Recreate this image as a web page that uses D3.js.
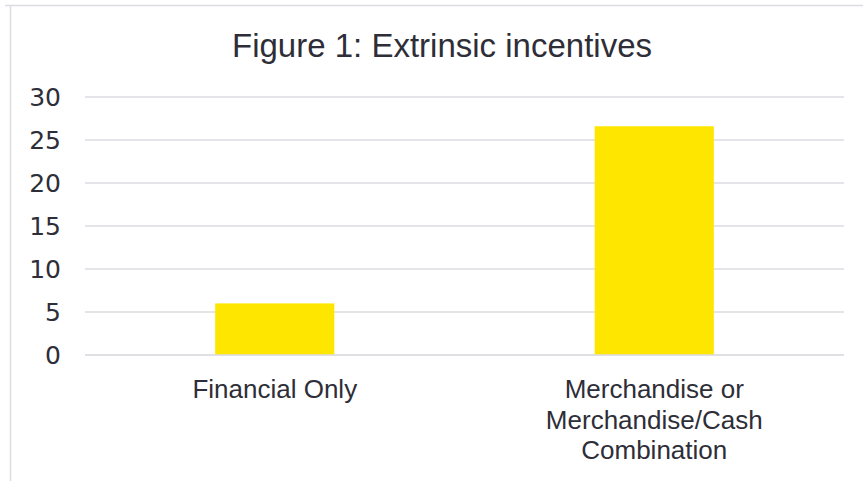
<!DOCTYPE html>
<html>
<head>
<meta charset="utf-8">
<script src="https://cdn.jsdelivr.net/npm/d3@7"></script>
<style>
  body { margin: 0; background: #fff; }
  text { font-family: "Liberation Sans", Arial, sans-serif; fill: #2e2e38; }
  .ytick { font-family: "DejaVu Sans", sans-serif; }
</style>
</head>
<body>
<svg id="chart"></svg>
<script>
// Chart data
const categories = ["Financial Only", "Merchandise or Merchandise/Cash Combination"];
const categoryLines = [["Financial Only"], ["Merchandise or", "Merchandise/Cash", "Combination"]];
const values = [6, 26.6];
const yTicks = [0, 5, 10, 15, 20, 25, 30];
const title = "Figure 1: Extrinsic incentives";

const W = 863, H = 481;
const margin = { top: 97, right: 19, bottom: 126, left: 85 };
const width = W - margin.left - margin.right;
const height = H - margin.top - margin.bottom;

const svg = d3.select("#chart")
    .attr("width", W)
    .attr("height", H);

// Frame (only top and left edges are visible in the crop)
svg.append("line")
    .attr("x1", 5).attr("x2", W).attr("y1", 5.5).attr("y2", 5.5)
    .attr("stroke", "#dcdce2").attr("stroke-width", 1.5);
svg.append("line")
    .attr("x1", 10.5).attr("x2", 10.5).attr("y1", 5).attr("y2", H)
    .attr("stroke", "#dcdce2").attr("stroke-width", 1.5);

// Title
svg.append("text")
    .attr("x", 442)
    .attr("y", 57)
    .attr("text-anchor", "middle")
    .style("font-size", "33px")
    .text(title);

const g = svg.append("g")
    .attr("transform", `translate(${margin.left},${margin.top})`);

const x = d3.scaleBand()
    .domain(categories)
    .range([0, width])
    .paddingInner(0.686)
    .paddingOuter(0.343);

const y = d3.scaleLinear()
    .domain([0, 30])
    .range([height, 0]);

// Gridlines
g.selectAll(".grid")
    .data(yTicks)
    .enter().append("line")
    .attr("class", "grid")
    .attr("x1", 0).attr("x2", width)
    .attr("y1", d => y(d)).attr("y2", d => y(d))
    .attr("stroke", "#dcdce2")
    .attr("stroke-width", 1.5);

// Y tick labels
g.selectAll(".ytick")
    .data(yTicks)
    .enter().append("text")
    .attr("class", "ytick")
    .attr("x", -24)
    .attr("y", d => y(d))
    .attr("dy", "0.36em")
    .attr("text-anchor", "end")
    .style("font-size", "25px")
    .text(d => d);

// Bars
g.selectAll(".bar")
    .data(values)
    .enter().append("rect")
    .attr("class", "bar")
    .attr("x", (d, i) => x(categories[i]))
    .attr("width", x.bandwidth())
    .attr("y", d => y(d))
    .attr("height", d => y(0) - y(d))
    .attr("fill", "#ffe600");

// Redraw zero line over bars
g.append("line")
    .attr("x1", 0).attr("x2", width)
    .attr("y1", y(0)).attr("y2", y(0))
    .attr("stroke", "#dcdce2")
    .attr("stroke-width", 1.5);

// Category labels
const cat = g.selectAll(".cat")
    .data(categories)
    .enter().append("text")
    .attr("class", "cat")
    .attr("text-anchor", "middle")
    .attr("transform", d => `translate(${x(d) + x.bandwidth() / 2},${height + 43})`)
    .style("font-size", "26px");

cat.selectAll("tspan")
    .data((d, i) => categoryLines[i])
    .enter().append("tspan")
    .attr("x", 0)
    .attr("y", (d, i) => i * 30.5)
    .text(d => d);
</script>
</body>
</html>
